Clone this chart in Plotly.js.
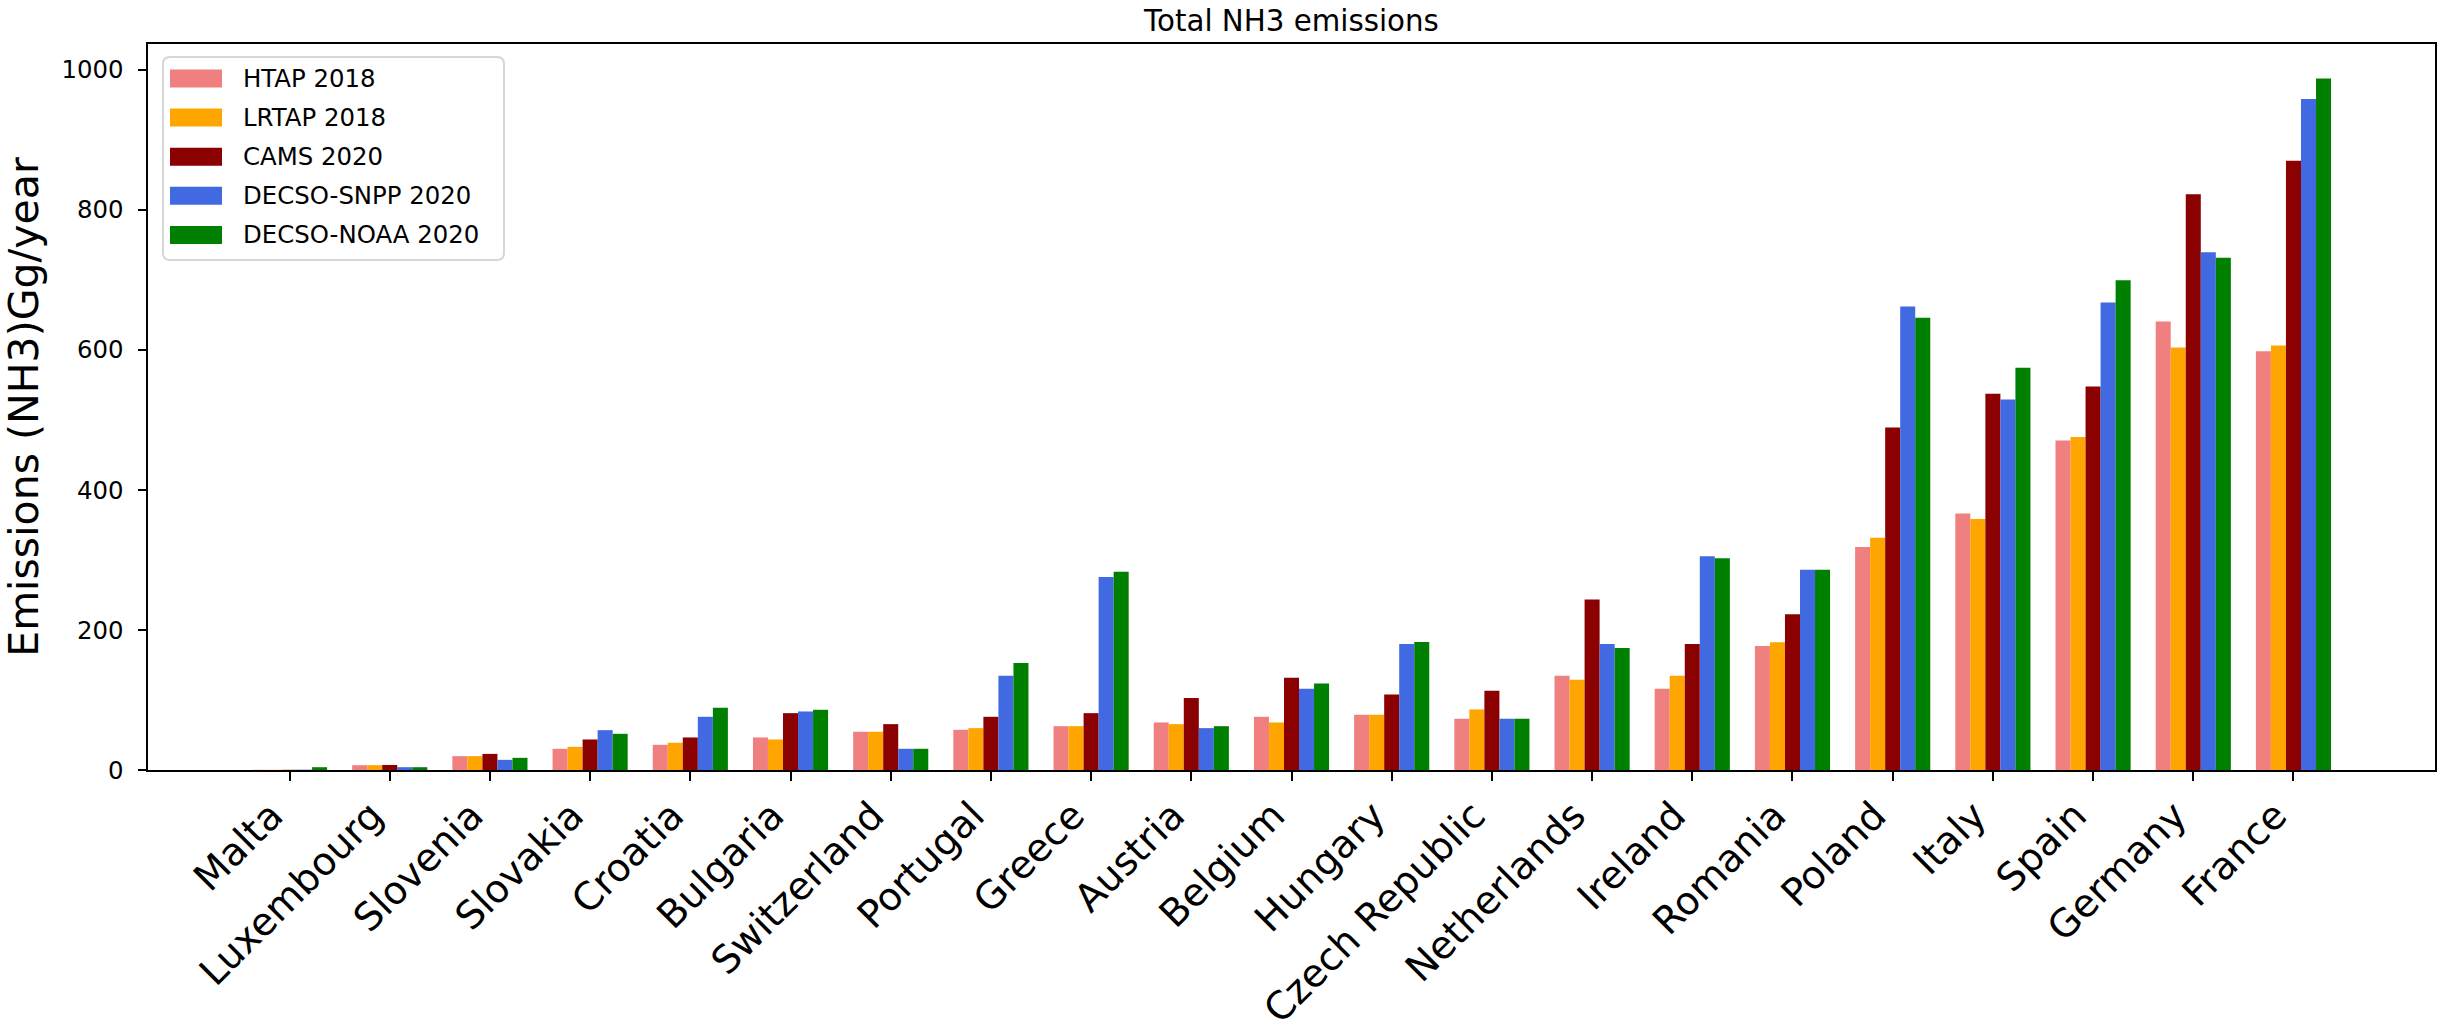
<!DOCTYPE html>
<html>
<head>
<meta charset="utf-8">
<script src="https://cdn.plot.ly/plotly-3.0.1.min.js"></script>
<style>
  html, body { margin: 0; padding: 0; background: #ffffff; }
  #chart { width: 2438px; height: 1030px; }
</style>
</head>
<body>
<div id="chart"></div>
<script>
// Countries, ordered by increasing total emissions
const countries = ['Malta', 'Luxembourg', 'Slovenia', 'Slovakia', 'Croatia', 'Bulgaria',
  'Switzerland', 'Portugal', 'Greece', 'Austria', 'Belgium', 'Hungary', 'Czech Republic',
  'Netherlands', 'Ireland', 'Romania', 'Poland', 'Italy', 'Spain', 'Germany', 'France'];

// NH3 emissions per inventory / inversion (Gg/year)
const htap2018 = [0.3, 6.9, 19.8, 30.3, 36.0, 46.5, 54.6, 57.4, 62.6, 67.9, 76.0, 78.9, 73.2,
  134.6, 116.0, 177.0, 318.5, 366.3, 470.6, 640.7, 598.3];
const lrtap2018 = [0.3, 6.9, 19.8, 33.1, 38.9, 43.6, 54.6, 59.8, 62.6, 65.5, 67.9, 78.9, 86.5,
  128.9, 134.6, 182.3, 331.9, 358.6, 475.8, 603.6, 606.4];
const cams2020 = [0.3, 7.2, 23.0, 43.6, 46.5, 81.2, 65.5, 76.0, 81.2, 102.7, 131.8, 107.9, 113.2,
  243.7, 179.9, 222.3, 489.2, 537.3, 547.8, 822.3, 870.3];
const decsoSnpp2020 = [0.5, 4.0, 14.5, 56.9, 76.0, 83.6, 30.3, 134.6, 275.6, 59.8, 116.0, 179.9, 73.2,
  179.9, 305.2, 286.2, 662.2, 529.2, 667.9, 739.4, 958.5];
const decsoNoaa2020 = [4.0, 4.0, 17.4, 51.7, 88.9, 86.0, 30.3, 152.7, 283.3, 62.6, 123.7, 182.7, 73.2,
  174.2, 302.4, 286.2, 645.9, 574.4, 699.4, 731.7, 987.6];

const seriesNames = ['HTAP 2018', 'LRTAP 2018', 'CAMS 2020', 'DECSO-SNPP 2020', 'DECSO-NOAA 2020'];
const seriesValues = [htap2018, lrtap2018, cams2020, decsoSnpp2020, decsoNoaa2020];
const seriesColors = ['#F08080', '#FFA500', '#8B0000', '#4169E1', '#008000'];

const yTicks = [0, 200, 400, 600, 800, 1000];

// Figure geometry (pixels)
const FIG_W = 2438, FIG_H = 1030;
const M = { l: 148, r: 3, t: 44, b: 260 };
const PW = FIG_W - M.l - M.r;
const PH = FIG_H - M.t - M.b;
const FONT = 'DejaVu Sans, Verdana, sans-serif';

// pixel position in the figure -> paper fraction
const px = x => (x - M.l) / PW;
const py = y => (FIG_H - M.b - y) / PH;

const traces = seriesNames.map((name, i) => ({
  type: 'bar',
  name: name,
  x: countries,
  y: seriesValues[i],
  marker: { color: seriesColors[i], line: { width: 0 } },
  showlegend: false,
  hoverinfo: 'x+y+name'
}));

// Legend box with rounded corners, swatches and labels
const box = { x0: 163, x1: 504, y0: 57, y1: 260, r: 7 };
function roundedRectPath(b) {
  const X = v => px(v).toFixed(6), Y = v => py(v).toFixed(6);
  return 'M' + X(b.x0 + b.r) + ',' + Y(b.y0) +
    ' L' + X(b.x1 - b.r) + ',' + Y(b.y0) +
    ' Q' + X(b.x1) + ',' + Y(b.y0) + ' ' + X(b.x1) + ',' + Y(b.y0 + b.r) +
    ' L' + X(b.x1) + ',' + Y(b.y1 - b.r) +
    ' Q' + X(b.x1) + ',' + Y(b.y1) + ' ' + X(b.x1 - b.r) + ',' + Y(b.y1) +
    ' L' + X(b.x0 + b.r) + ',' + Y(b.y1) +
    ' Q' + X(b.x0) + ',' + Y(b.y1) + ' ' + X(b.x0) + ',' + Y(b.y1 - b.r) +
    ' L' + X(b.x0) + ',' + Y(b.y0 + b.r) +
    ' Q' + X(b.x0) + ',' + Y(b.y0) + ' ' + X(b.x0 + b.r) + ',' + Y(b.y0) + ' Z';
}

const shapes = [{
  type: 'path', xref: 'paper', yref: 'paper',
  path: roundedRectPath(box),
  line: { color: '#d6d6d6', width: 2 },
  fillcolor: 'rgba(255,255,255,0.8)',
  layer: 'above'
}];
const annotations = [];
const rowY0 = 78.5, rowStep = 39.1;
seriesNames.forEach((name, i) => {
  const cy = rowY0 + i * rowStep;
  shapes.push({
    type: 'rect', xref: 'paper', yref: 'paper',
    x0: px(170), x1: px(222), y0: py(cy - 9), y1: py(cy + 9),
    fillcolor: seriesColors[i], line: { width: 0 }, layer: 'above'
  });
  annotations.push({
    xref: 'paper', yref: 'paper', x: px(241), y: py(cy),
    xanchor: 'left', yanchor: 'middle', showarrow: false,
    text: name, font: { family: FONT, size: 24.4, color: '#000000' }
  });
});

const layout = {
  width: FIG_W, height: FIG_H,
  margin: M,
  paper_bgcolor: '#ffffff', plot_bgcolor: '#ffffff',
  font: { family: FONT, color: '#000000' },
  title: {
    text: 'Total NH3 emissions',
    font: { family: FONT, size: 29.3, color: '#000000' },
    x: 0.5, xref: 'paper', xanchor: 'center',
    y: 1, yref: 'paper', yanchor: 'bottom',
    pad: { b: 13 }
  },
  barmode: 'group',
  bargap: 0.25,
  bargroupgap: 0,
  xaxis: {
    type: 'category',
    range: [-1.4125, 21.4125],
    showline: true, mirror: true, linecolor: '#000000', linewidth: 2,
    ticks: 'outside', ticklen: 8.5, tickwidth: 2, tickcolor: '#000000',
    tickangle: -45,
    ticklabelshift: -18,
    ticklabelstandoff: -3,
    tickfont: { family: FONT, size: 38.5, color: '#000000' },
    showgrid: false, zeroline: false, automargin: false
  },
  yaxis: {
    range: [0, 1037],
    tickvals: yTicks,
    ticktext: yTicks.map(String),
    showline: true, mirror: true, linecolor: '#000000', linewidth: 2,
    ticks: 'outside', ticklen: 8.5, tickwidth: 2, tickcolor: '#000000',
    tickfont: { family: FONT, size: 24.4, color: '#000000' },
    ticklabelstandoff: 9,
    showgrid: false, zeroline: false, automargin: false,
    title: {
      text: 'Emissions (NH3)Gg/year',
      font: { family: FONT, size: 41, color: '#000000' },
      standoff: 20
    }
  },
  shapes: shapes,
  annotations: annotations,
  showlegend: false
};

Plotly.newPlot('chart', traces, layout, { displayModeBar: false, staticPlot: true });
</script>
</body>
</html>
